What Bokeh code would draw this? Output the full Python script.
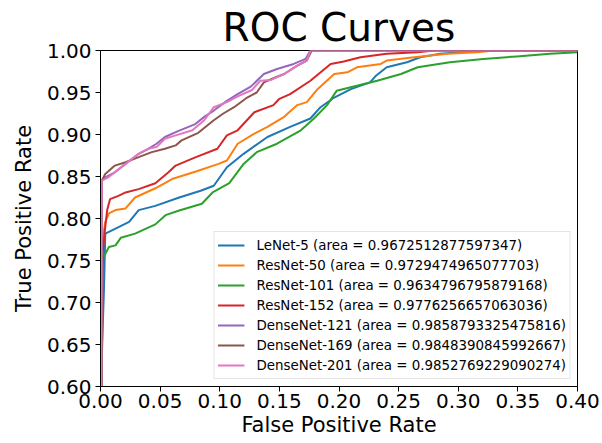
from bokeh.plotting import figure
from bokeh.models import Range1d, FixedTicker, Legend, LegendItem, NumeralTickFormatter
from bokeh.embed import file_html
from bokeh.resources import INLINE

models = ["LeNet-5", "ResNet-50", "ResNet-101", "ResNet-152",
          "DenseNet-121", "DenseNet-169", "DenseNet-201"]
areas = ["0.9672512877597347", "0.9729474965077703", "0.9634796795879168",
         "0.9776256657063036", "0.9858793325475816", "0.9848390845992667",
         "0.9852769229090274"]
colors = ["#1f77b4", "#ff7f0e", "#2ca02c", "#d62728", "#9467bd", "#8c564b", "#e377c2"]

lenet_fpr = [0, 0.001, 0.0014, 0.003, 0.004, 0.0126, 0.024, 0.032, 0.046, 0.066, 0.084, 0.095,
             0.106, 0.120, 0.140, 0.159, 0.176, 0.1845, 0.196, 0.210, 0.226, 0.231, 0.240,
             0.257, 0.268, 0.285, 0.302, 0.315, 0.40]
lenet_tpr = [0, 0.62, 0.651, 0.72, 0.782, 0.788, 0.796, 0.81, 0.815, 0.825, 0.833, 0.839,
             0.861, 0.877, 0.897, 0.909, 0.919, 0.9325, 0.944, 0.954, 0.962, 0.970, 0.980,
             0.986, 0.992, 0.996, 0.998, 1.0, 1.0]

resnet50_fpr = [0, 0.001, 0.002, 0.004, 0.007, 0.0126, 0.021, 0.029, 0.046, 0.060, 0.080, 0.099,
                0.106, 0.115, 0.129, 0.140, 0.154, 0.165, 0.173, 0.182, 0.196, 0.207, 0.215,
                0.235, 0.240, 0.263, 0.291, 0.316, 0.33, 0.40]
resnet50_tpr = [0, 0.70, 0.778, 0.796, 0.806, 0.81, 0.812, 0.825, 0.836, 0.847, 0.856, 0.865,
                0.869, 0.889, 0.901, 0.909, 0.921, 0.935, 0.9385, 0.954, 0.972, 0.974, 0.980,
                0.984, 0.988, 0.992, 0.996, 0.998, 1.0, 1.0]

resnet101_fpr = [0, 0.001, 0.002, 0.007, 0.0126, 0.017, 0.029, 0.046, 0.0545, 0.066, 0.085,
                 0.094, 0.108, 0.120, 0.131, 0.148, 0.168, 0.179, 0.190, 0.198, 0.215, 0.232,
                 0.252, 0.266, 0.293, 0.321, 0.349, 0.377, 0.40]
resnet101_tpr = [0, 0.60, 0.752, 0.766, 0.768, 0.777, 0.782, 0.793, 0.804, 0.8095, 0.8175,
                 0.831, 0.842, 0.865, 0.879, 0.889, 0.905, 0.919, 0.935, 0.952, 0.958, 0.964,
                 0.972, 0.980, 0.986, 0.990, 0.993, 0.996, 0.998]

resnet152_fpr = [0, 0.001, 0.002, 0.004, 0.0056, 0.008, 0.015, 0.021, 0.032, 0.046, 0.057,
                 0.063, 0.080, 0.098, 0.106, 0.115, 0.129, 0.145, 0.150, 0.159, 0.176, 0.193,
                 0.204, 0.218, 0.240, 0.266, 0.28, 0.40]
resnet152_tpr = [0, 0.70, 0.762, 0.79, 0.81, 0.823, 0.827, 0.831, 0.835, 0.842, 0.855,
                 0.863, 0.873, 0.883, 0.899, 0.905, 0.9265, 0.935, 0.9425, 0.948, 0.964, 0.984,
                 0.987, 0.992, 0.996, 0.998, 1.0, 1.0]

densenet121_fpr = [0, 0.001, 0.004, 0.012, 0.021, 0.032, 0.040, 0.047, 0.054, 0.065, 0.079,
                   0.087, 0.095, 0.106, 0.115, 0.126, 0.137, 0.148, 0.162, 0.172, 0.176, 0.40]
densenet121_tpr = [0, 0.845, 0.849, 0.855, 0.865, 0.877, 0.883, 0.889, 0.897, 0.904, 0.912,
                   0.921, 0.9285, 0.940, 0.948, 0.957, 0.972, 0.978, 0.984, 0.990, 1.0, 1.0]

densenet169_fpr = [0, 0.001, 0.004, 0.012, 0.021, 0.032, 0.043, 0.054, 0.063, 0.068, 0.082,
                   0.095, 0.103, 0.112, 0.123, 0.131, 0.137, 0.145, 0.154, 0.165, 0.173,
                   0.177, 0.40]
densenet169_tpr = [0, 0.845, 0.853, 0.863, 0.867, 0.873, 0.879, 0.883, 0.887, 0.893, 0.902,
                   0.917, 0.925, 0.9325, 0.944, 0.950, 0.962, 0.967, 0.972, 0.982, 0.988,
                   1.0, 1.0]

densenet201_fpr = [0, 0.001, 0.0067, 0.012, 0.021, 0.032, 0.040, 0.047, 0.054, 0.063, 0.077,
                   0.087, 0.095, 0.106, 0.116, 0.127, 0.134, 0.143, 0.154, 0.165, 0.173,
                   0.176, 0.40]
densenet201_tpr = [0, 0.845, 0.849, 0.855, 0.865, 0.877, 0.883, 0.885, 0.895, 0.899, 0.905,
                   0.917, 0.9325, 0.9385, 0.946, 0.953, 0.964, 0.965, 0.972, 0.982, 0.988,
                   1.0, 1.0]

fprs = [lenet_fpr, resnet50_fpr, resnet101_fpr, resnet152_fpr,
        densenet121_fpr, densenet169_fpr, densenet201_fpr]
tprs = [lenet_tpr, resnet50_tpr, resnet101_tpr, resnet152_tpr,
        densenet121_tpr, densenet169_tpr, densenet201_tpr]

x_ticks = [0.0, 0.05, 0.10, 0.15, 0.20, 0.25, 0.30, 0.35, 0.40]
y_ticks = [0.60, 0.65, 0.70, 0.75, 0.80, 0.85, 0.90, 0.95, 1.00]

FONT = "DejaVu Sans"

p = figure(width=600, height=443, output_backend="svg", toolbar_location=None,
           x_range=Range1d(0, 0.4), y_range=Range1d(0.6, 1.0),
           min_border_left=100, min_border_right=23, min_border_top=50, min_border_bottom=57)

p.title.text = "ROC Curves"
p.title.text_font = FONT
p.title.text_font_size = "39px"
p.title.text_font_style = "normal"
p.title.text_color = "black"
p.title.align = "center"
p.title.standoff = 1

p.xgrid.visible = False
p.ygrid.visible = False
p.background_fill_color = "white"
p.border_fill_color = "white"
p.outline_line_color = "black"
p.outline_line_width = 1
p.outline_line_alpha = 1

for ax, ticks in ((p.xaxis[0], x_ticks), (p.yaxis[0], y_ticks)):
    ax.ticker = FixedTicker(ticks=ticks)
    ax.formatter = NumeralTickFormatter(format="0.00")
    ax.minor_tick_line_color = None
    ax.major_tick_in = 0
    ax.major_tick_out = 5
    ax.major_tick_line_color = "black"
    ax.axis_line_color = "black"
    ax.major_label_text_font = FONT
    ax.major_label_text_font_size = "20px"
    ax.major_label_text_color = "black"
    ax.axis_label_text_font = FONT
    ax.axis_label_text_font_size = "21px"
    ax.axis_label_text_font_style = "normal"
    ax.axis_label_text_color = "black"

p.xaxis.major_label_standoff = 2
p.xaxis.axis_label_standoff = 2
p.yaxis.major_label_standoff = 4
p.yaxis.axis_label_standoff = 8
p.xaxis.axis_label = "False Positive Rate"
p.yaxis.axis_label = "True Positive Rate"

items = []
for name, area, col, fx, ty in zip(models, areas, colors, fprs, tprs):
    r = p.line(fx, ty, line_color=col, line_width=2)
    items.append(LegendItem(label=f"{name} (area = {area})", renderers=[r]))

legend = Legend(items=items, location="bottom_right")
legend.margin = 7
legend.padding = 3
legend.spacing = 0
legend.label_height = 20
legend.glyph_height = 20
legend.glyph_width = 27
legend.label_standoff = 12
legend.label_text_font = FONT
legend.label_text_font_size = "13.4px"
legend.label_text_color = "black"
legend.border_line_color = "#cccccc"
legend.border_line_width = 1
legend.background_fill_color = "white"
legend.background_fill_alpha = 0.8
p.add_layout(legend)

open("out.html", "w").write(file_html(p, INLINE))
